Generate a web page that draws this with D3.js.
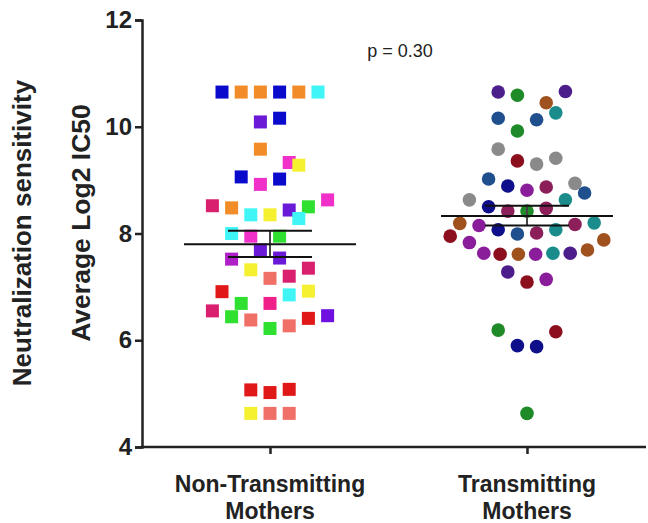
<!DOCTYPE html>
<meta charset="utf-8">
<script src="https://d3js.org/d3.v7.min.js"></script>
<style>
  body { margin: 0; background: #fff; }
  text { font-family: Arial, "Liberation Sans", sans-serif; fill: #222; }
</style>
<svg id="chart" width="648" height="523"></svg>
<script>
// categories and axis
const groups = ["Non-Transmitting Mothers", "Transmitting Mothers"];
const groupLines = [["Non-Transmitting", "Mothers"], ["Transmitting", "Mothers"]];
const yTicks = [4, 6, 8, 10, 12];

// Non-transmitting mothers (squares): value, jitter slot, colour
const ntValues = [10.65, 10.65, 10.65, 10.65, 10.65, 10.65, 10.09, 10.16, 9.58, 9.33, 9.28,
  9.06, 8.92, 9.02, 8.52, 8.48, 8.35, 8.35, 8.44, 8.50, 8.63, 8.28, 8.00, 7.95, 7.95, 7.69,
  7.52, 7.54, 7.32, 7.16, 7.20, 7.35, 6.91, 6.85, 6.92, 6.69, 6.69,
  6.55, 6.44, 6.38, 6.22, 6.27, 6.41, 6.46, 5.07, 5.02, 5.08, 4.63, 4.63, 4.63];
const ntSlots = [-5, -3, -1, 1, 3, 5, -1, 1, -1, 2, 3,
  -3, -1, 1, -6, -4, -2, 0, 2, 4, 6, 3, -4, -2, 1, -1,
  -4, 1, -2, 0, 2, 4, -5, 2, 4, -3, 0,
  -6, -4, -2, 0, 2, 4, 6, -2, 0, 2, -2, 0, 2];
const ntColors = ["#0a0acc", "#f28c28", "#f28c28", "#0a0acc", "#f28c28", "#3ff5f5", "#6a1ad6", "#0a0acc", "#f28c28", "#f030c8", "#f5f030",
  "#0a0acc", "#f030c8", "#0a0acc", "#d8206e", "#f28c28", "#3ff5f5", "#f5f030", "#6a1ad6", "#30e030", "#f030c8", "#3ff5f5", "#3ff5f5", "#f030c8", "#30e030", "#6a1ad6",
  "#b020c8", "#6a1ad6", "#f5f030", "#f07068", "#d8206e", "#d8206e", "#e01818", "#3ff5f5", "#f5f030", "#30e030", "#f0208a",
  "#d8206e", "#30e030", "#f07068", "#30e030", "#f07068", "#e01818", "#7010e0", "#e01818", "#e01818", "#e01818", "#f5f030", "#f07068", "#f07068"];

// Transmitting mothers (circles)
const tValues = [10.65, 10.59, 10.66, 10.45, 10.16, 10.13, 10.26, 9.92, 9.58, 9.36, 9.30, 9.41,
  9.02, 8.89, 8.81, 8.87, 8.94, 8.76, 8.63, 8.50, 8.42, 8.42, 8.47, 8.63,
  8.19, 8.15, 8.07, 7.99, 8.01, 8.07, 8.17, 8.20, 7.95, 7.83, 7.88,
  7.63, 7.61, 7.61, 7.61, 7.63, 7.63, 7.69, 7.28, 7.09, 7.14, 6.19, 6.16, 5.90, 5.88, 4.63];
const tSlots = [-3, -1, 4, 2, -3, 1, 3, -1, -3, -1, 1, 3,
  -4, -2, 0, 2, 5, 6, -6, -4, -2, 0, 2, 4,
  -7, -5, -3, -1, 1, 3, 5, 7, -8, -6, 8,
  -4.5, -2.8, -0.9, 0.9, 2.7, 4.5, 6.3, -2, 0, 2, -3, 3, -1, 1, 0];
const tColors = ["#4b1e8c", "#1e8a28", "#4b1e8c", "#a0521e", "#1f4f8c", "#1f4f8c", "#1a8c8c", "#1e8a28", "#8a8a8a", "#8c0f1e", "#8a8a8a", "#8a8a8a",
  "#1f4f8c", "#0f0f8c", "#8a1e9a", "#8c1e5a", "#8a8a8a", "#1f4f8c", "#8a8a8a", "#0f0f8c", "#8c1e5a", "#1e8a28", "#8c1e5a", "#1a8c8c",
  "#a0521e", "#8a1e9a", "#0f0f8c", "#1f4f8c", "#8c1e5a", "#1a8c8c", "#8c1e5a", "#1a8c8c", "#8c0f1e", "#8a1e9a", "#a0521e",
  "#8a1e9a", "#8c0f1e", "#a0521e", "#8a1e9a", "#1a8c8c", "#4b1e8c", "#a0521e", "#4b1e8c", "#8c0f1e", "#8a1e9a", "#1e8a28", "#8c0f1e", "#0f0f8c", "#0f0f8c", "#1e8a28"];

// mean and SEM per group
const means = [7.80, 8.33];
const semLow = [7.56, 8.15];
const semHigh = [8.05, 8.52];
const pLabel = "p = 0.30";

const svg = d3.select("#chart");
const axisLeftX = 142, axisRightX = 646, axisBottomY = 447, axisTopY = 20;

const y = d3.scaleLinear().domain([4, 12]).range([axisBottomY, axisTopY]);
const x = d3.scalePoint().domain(groups).range([270, 527]);
const jitter = d3.scaleLinear().domain([-1, 1]).range([-9.6, 9.6]);

// y axis
const yAxis = svg.append("g")
  .attr("transform", `translate(${axisLeftX},0)`)
  .call(d3.axisLeft(y).tickValues(yTicks).tickSize(7).tickPadding(3).tickFormat(d3.format("d")));
yAxis.select(".domain").attr("stroke", "#222").attr("stroke-width", 2.5);
yAxis.selectAll(".tick line").attr("stroke", "#222").attr("stroke-width", 2.5);
yAxis.selectAll(".tick text").style("font-size", "24px").style("font-weight", "bold").attr("fill", "#222");

// x axis
const xAxis = svg.append("g")
  .attr("transform", `translate(0,${axisBottomY})`)
  .call(d3.axisBottom(x).tickSize(7).tickFormat(""));
xAxis.select(".domain").remove();
xAxis.selectAll(".tick line").attr("stroke", "#222").attr("stroke-width", 2.5);
xAxis.append("line")
  .attr("x1", axisLeftX - 1.25).attr("x2", axisRightX)
  .attr("stroke", "#222").attr("stroke-width", 2.5);

// category labels
groups.forEach(function (g, i) {
  const t = svg.append("text")
    .attr("text-anchor", "middle")
    .style("font-size", "23px").style("font-weight", "bold");
  groupLines[i].forEach(function (line, j) {
    t.append("tspan").attr("x", x(g)).attr("y", 492 + j * 27).text(line);
  });
});

// y axis title
svg.append("text")
  .attr("transform", "translate(31,233) rotate(-90)")
  .attr("text-anchor", "middle")
  .style("font-size", "26px").style("font-weight", "bold")
  .text("Neutralization sensitivity");
svg.append("text")
  .attr("transform", "translate(90,223) rotate(-90)")
  .attr("text-anchor", "middle")
  .style("font-size", "26.5px").style("font-weight", "bold")
  .text("Average Log2 IC50");

// p value
svg.append("text")
  .attr("x", 400).attr("y", 57)
  .attr("text-anchor", "middle")
  .style("font-size", "18px")
  .text(pLabel);

// points
const sq = 13;
svg.append("g").selectAll("rect")
  .data(ntValues)
  .enter()
  .append("rect")
    .attr("x", (d, i) => x(groups[0]) + jitter(ntSlots[i]) - sq / 2)
    .attr("y", d => y(d) - sq / 2)
    .attr("width", sq).attr("height", sq)
    .attr("fill", (d, i) => ntColors[i]);

svg.append("g").selectAll("circle")
  .data(tValues)
  .enter()
  .append("circle")
    .attr("cx", (d, i) => x(groups[1]) + jitter(tSlots[i]))
    .attr("cy", d => y(d))
    .attr("r", 6.8)
    .attr("fill", (d, i) => tColors[i]);

// mean and SEM bars
const meanHalf = 86, semHalf = 42;
groups.forEach(function (g, i) {
  const cx = x(g);
  const bars = svg.append("g").attr("stroke", "#111").attr("stroke-width", 2);
  bars.append("line").attr("x1", cx).attr("x2", cx)
    .attr("y1", y(semHigh[i])).attr("y2", y(semLow[i])).attr("stroke", "#444");
  bars.append("line").attr("x1", cx - meanHalf).attr("x2", cx + meanHalf)
    .attr("y1", y(means[i])).attr("y2", y(means[i]));
  [semLow[i], semHigh[i]].forEach(function (v) {
    bars.append("line").attr("x1", cx - semHalf).attr("x2", cx + semHalf)
      .attr("y1", y(v)).attr("y2", y(v));
  });
});
</script>
